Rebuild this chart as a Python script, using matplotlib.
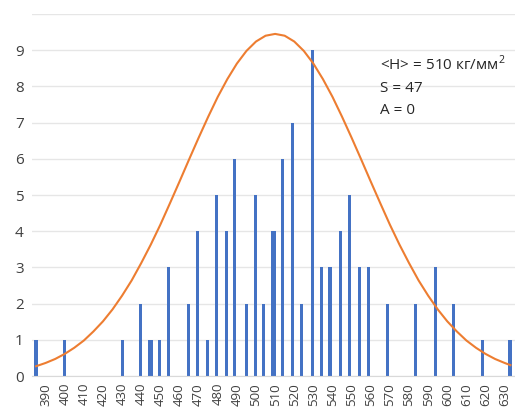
import numpy as np
import matplotlib
matplotlib.use('Agg')
import matplotlib.pyplot as plt

plt.rcParams['font.family'] = ['Open Sans', 'DejaVu Sans']
plt.rcParams['mathtext.fontset'] = 'custom'
plt.rcParams['mathtext.rm'] = 'Open Sans'

# measured hardness values and how often each occurred
hardness = [385, 400, 430, 439.5, 444.5, 445.5, 449.5, 454.5, 464.5, 469.5,
            474.5, 479.5, 484.5, 489, 495, 499.5, 504, 508.7, 509.7, 514,
            519, 524, 529.3, 534, 538.7, 544, 548.7, 554, 559, 568.7,
            583.5, 593.8, 603.2, 618.2, 632.8]
counts = [1, 1, 1, 2, 1, 1, 1, 3, 2, 4,
          1, 5, 4, 6, 2, 5, 2, 4, 4, 6,
          7, 2, 9, 3, 3, 4, 5, 3, 3, 2,
          2, 3, 2, 1, 1]

# normal curve
curve_x = [385, 390, 395, 400, 405, 410, 415, 420, 425, 430, 435, 440, 445,
           450, 455, 460, 465, 470, 475, 480, 485, 490, 495, 500, 505, 510,
           515, 520, 525, 530, 535, 540, 545, 550, 555, 560, 565, 570, 575,
           580, 585, 590, 595, 600, 605, 610, 615, 620, 625, 630, 633]
curve_y = [0.27, 0.36, 0.47, 0.61, 0.78, 0.98, 1.23, 1.51, 1.84, 2.22, 2.64,
           3.12, 3.63, 4.18, 4.77, 5.37, 5.98, 6.58, 7.16, 7.71, 8.20, 8.63,
           8.98, 9.24, 9.40, 9.45, 9.40, 9.24, 8.98, 8.63, 8.20, 7.71, 7.16,
           6.58, 5.98, 5.37, 4.77, 4.18, 3.63, 3.12, 2.64, 2.22, 1.84, 1.51,
           1.23, 0.98, 0.78, 0.61, 0.47, 0.36, 0.30]

xticks = list(range(390, 640, 10))
yticks = list(range(0, 11))

fig = plt.figure(figsize=(5.15, 4.08), dpi=100)
ax = fig.add_axes([32/515, 32/408, 1 - 32/515, 362/408])

ax.bar(hardness, counts, width=1.6, color='#4472C4', zorder=2)
ax.plot(curve_x, curve_y, color='#ED7D31', lw=1.5, zorder=3)

ax.set_xlim(382.9, 635.4)
ax.set_ylim(0, 10)
ax.set_xticks(xticks)
ax.set_xticklabels([str(t) for t in xticks], rotation=90, fontsize=9.5,
                   color='#404040')
ax.set_yticks(yticks)
ax.set_yticklabels([str(t) if t < 10 else '' for t in yticks], fontsize=11,
                   color='#404040')
ax.tick_params(axis='both', length=0)
ax.tick_params(axis='x', pad=5)
ax.tick_params(axis='y', pad=6)
ax.grid(axis='y', color='#e6e6e6', lw=1, zorder=0)

for s in ['top', 'right', 'left']:
    ax.spines[s].set_visible(False)
ax.spines['bottom'].set_color('#d9d9d9')

txt = dict(transform=ax.transAxes, fontsize=11, color='#262626', va='center')
ax.text((380 - 32) / 483, 1 - (64 - 14) / 362, '<H> = 510 кг/мм$^2$', **txt)
ax.text((380 - 32) / 483, 1 - (88 - 14) / 362, 'S = 47', **txt)
ax.text((380 - 32) / 483, 1 - (111 - 14) / 362, 'A = 0', **txt)

fig.savefig('out.png', dpi=100)
